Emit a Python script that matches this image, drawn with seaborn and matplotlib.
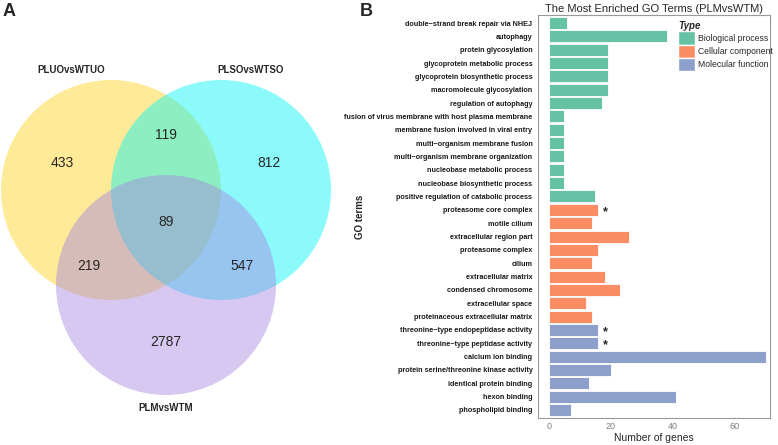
"""
Venn diagram + GO enrichment bar chart (PLMvsWTM)
"""

import numpy as np
import pandas as pd
import matplotlib
matplotlib.use('Agg')
import matplotlib.pyplot as plt
from matplotlib.patches import Circle, Patch
import seaborn as sns


# Venn 数据
venn_sets = ['PLUOvsWTUO', 'PLSOvsWTSO', 'PLMvsWTM']
venn_colors = ['#FFD21A', '#00F5F5', '#A585E2']
venn_counts = {
    'A': 433, 'B': 812, 'C': 2787,
    'AB': 119, 'AC': 219, 'BC': 547, 'ABC': 89,
}

# GO 数据
go_terms = [
    'double\u2212strand break repair via NHEJ', 'autophagy', 'protein glycosylation',
    'glycoprotein metabolic process', 'glycoprotein biosynthetic process',
    'macromolecule glycosylation', 'regulation of autophagy',
    'fusion of virus membrane with host plasma membrane',
    'membrane fusion involved in viral entry', 'multi\u2212organism membrane fusion',
    'multi\u2212organism membrane organization', 'nucleobase metabolic process',
    'nucleobase biosynthetic process', 'positive regulation of catabolic process',
    'proteasome core complex', 'motile cilium', 'extracellular region part',
    'proteasome complex', 'cilium', 'extracellular matrix', 'condensed chromosome',
    'extracellular space', 'proteinaceous extracellular matrix',
    'threonine\u2212type endopeptidase activity', 'threonine\u2212type peptidase activity',
    'calcium ion binding', 'protein serine/threonine kinase activity',
    'identical protein binding', 'hexon binding', 'phospholipid binding',
]
go_counts = [6, 38, 19, 19, 19, 19, 17, 5, 5, 5, 5, 5, 5, 15,
             16, 14, 26, 16, 14, 18, 23, 12, 14,
             16, 16, 70, 20, 13, 41, 7]
go_types = (['Biological process'] * 14 + ['Cellular component'] * 9
            + ['Molecular function'] * 7)
starred = ['proteasome core complex', 'threonine\u2212type endopeptidase activity',
           'threonine\u2212type peptidase activity']
type_order = ['Biological process', 'Cellular component', 'Molecular function']
type_colors = ['#66C2A5', '#FC8D62', '#8DA0CB']


sns.set_style('white')
plt.rcParams['font.family'] = ['Liberation Sans', 'DejaVu Sans']

fig = plt.figure(figsize=(7.78, 4.45), dpi=100)

# ---------- A: Venn ----------
ax_v = fig.add_axes([0, 0, 380 / 778, 1])
ax_v.set_xlim(0, 380)
ax_v.set_ylim(445, 0)
ax_v.axis('off')

r = 110
centers = [(111, 190), (221, 190), (166, 285)]
for (cx, cy), col in zip(centers, venn_colors):
    ax_v.add_patch(Circle((cx, cy), r, facecolor=col, alpha=0.45, edgecolor='none'))

label_pos = [(71, 70), (251, 70), (166, 408)]
for name, (lx, ly) in zip(venn_sets, label_pos):
    ax_v.text(lx, ly, name, ha='center', va='center', fontsize=7, fontweight='bold')

count_pos = {'A': (62, 163), 'B': (269, 163), 'C': (166, 342), 'AB': (166, 135),
             'AC': (89, 266), 'BC': (242, 266), 'ABC': (166, 222)}
for k, v in venn_counts.items():
    x, y = count_pos[k]
    ax_v.text(x, y, str(v), ha='center', va='center', fontsize=10)

fig.text(9 / 778, 1 - 12 / 445, 'A', fontsize=13, fontweight='bold', ha='center', va='center')
fig.text(366 / 778, 1 - 12 / 445, 'B', fontsize=13, fontweight='bold', ha='center', va='center')

# ---------- B: GO bar ----------
df = pd.DataFrame({'term': go_terms, 'count': go_counts, 'Type': go_types})

ax = fig.add_axes([538 / 778, 27 / 445, 232 / 778, 403 / 445])
sns.barplot(data=df, y='term', x='count', hue='Type', hue_order=type_order,
            palette=type_colors, dodge=False, width=0.9, edgecolor='white',
            linewidth=0.6, saturation=1, ax=ax, order=go_terms)

for i, (t, c) in enumerate(zip(go_terms, go_counts)):
    if t in starred:
        ax.text(c + 1.5, i + 0.15, '*', fontsize=9, fontweight='bold', ha='left', va='center')

ax.set_xlim(-3.5, 71.3)
ax.set_ylim(len(go_terms) - 0.4, -0.6)
ax.set_xticks([0, 20, 40, 60])
ax.tick_params(axis='x', labelsize=6.5, colors='#808080', length=2, pad=1)
ax.tick_params(axis='y', labelsize=5.2, length=2, pad=2, color='#808080')
for lbl in ax.get_yticklabels():
    lbl.set_fontweight('bold')
    lbl.set_color('#1a1a1a')
ax.set_xlabel('Number of genes', fontsize=7.5, labelpad=1)
ax.set_ylabel('GO terms', fontsize=7, fontweight='bold')
ax.yaxis.set_label_coords((365 - 538) / 232, 0.5)
ax.set_title('The Most Enriched GO Terms (PLMvsWTM)', fontsize=8, pad=2)
for s in ax.spines.values():
    s.set_color('#999999')
    s.set_linewidth(0.8)

handles = [Patch(facecolor=c, edgecolor='white') for c in type_colors]
leg = ax.legend(handles, type_order, title='Type', loc='upper right',
                bbox_to_anchor=(1.035, 0.997), frameon=False, fontsize=6.2,
                handlelength=2.0, handleheight=2.0, handletextpad=0.3,
                labelspacing=0.0, borderaxespad=0.2)
leg.get_title().set_fontweight('bold')
leg.get_title().set_fontstyle('italic')
leg.get_title().set_fontsize(7)
leg._legend_box.align = 'left'

fig.savefig('out.png', dpi=100)
